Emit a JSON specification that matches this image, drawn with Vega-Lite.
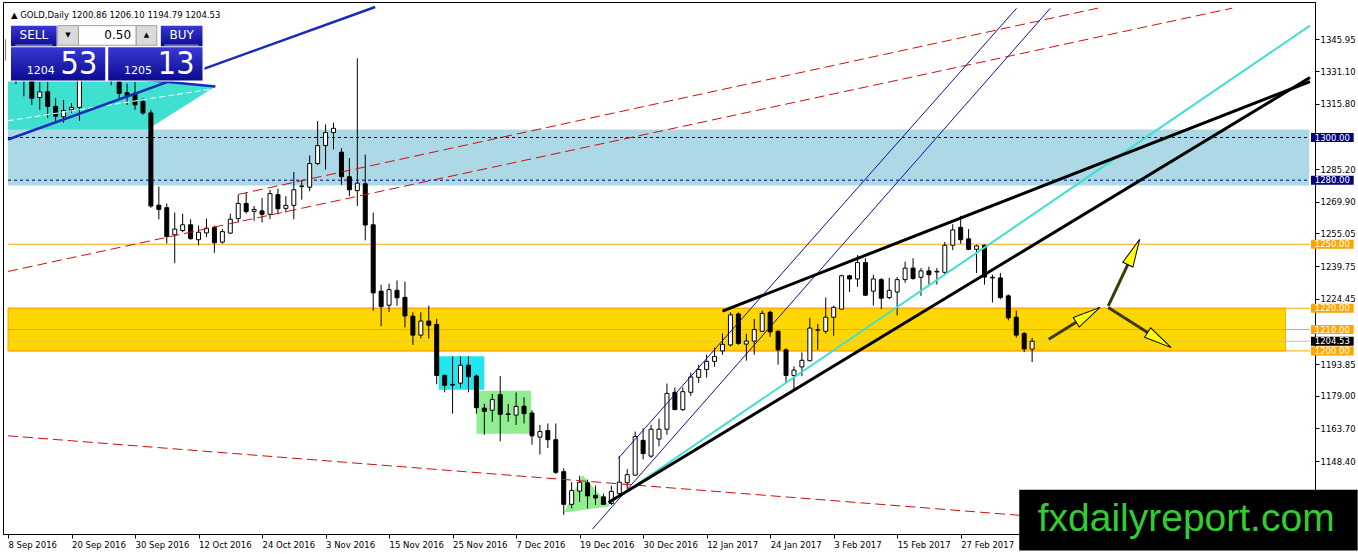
{
"$schema": "https://vega.github.io/schema/vega-lite/v6.json",
"width": 1312, "height": 532,
"autosize": {"type": "none"},
"padding": {"left": 3, "top": 2, "right": 43, "bottom": 20},
"background": "#FFFFFF",
"config": {"view": {"stroke": "#000000", "strokeWidth": 1}},
"encoding": {
 "x": {"field": "x", "type": "quantitative", "title": null, "scale": {"domain": [0, 164], "nice": false, "zero": false},
  "axis": {"values": [0,8,16,24,32,40,48,56,64,72,80,88,96,104,112,120], "labelExpr": "['8 Sep 2016','20 Sep 2016','30 Sep 2016','12 Oct 2016','24 Oct 2016','3 Nov 2016','15 Nov 2016','25 Nov 2016','7 Dec 2016','19 Dec 2016','30 Dec 2016','12 Jan 2017','24 Jan 2017','3 Feb 2017','15 Feb 2017','27 Feb 2017'][round(datum.value/8)]", "labelAlign": "left", "labelBaseline": "top", "tickSize": 4, "labelPadding": 2, "labelFont": "DejaVu Sans", "labelFontSize": 8.5, "labelColor": "#000000", "tickColor": "#000000", "domainColor": "#000000", "grid": false, "title": null, "labelFlush": false, "labelOverlap": false, "labelBound": false}},
 "y": {"field": "y", "type": "quantitative", "title": null, "scale": {"domain": [1116.55, 1361.15], "nice": false, "zero": false},
  "axis": {"orient": "right", "values": [1345.95,1331.1,1315.8,1285.2,1269.9,1255.05,1239.75,1224.45,1193.85,1179,1163.7,1148.4], "format": ".2f", "tickSize": 4, "labelPadding": 1, "labelFont": "DejaVu Sans", "labelFontSize": 8.5, "labelColor": "#000000", "tickColor": "#000000", "domainColor": "#000000", "grid": false, "title": null, "labelFlush": false, "labelOverlap": false}}
},
"layer": [
 {"data": {"values": [{"x": 0, "x2": 163.9, "y": 1277.5, "y2": 1303.7}]},
  "mark": {"type": "rect", "fill": "#ADD8E6"},
  "encoding": {"x2": {"field": "x2"}, "y2": {"field": "y2"}}},
 {"data": {"values": [{"x": 0, "y": 1332.69, "y2": 1303.68}, {"x": 17.5, "y": 1326.84, "y2": 1303.68}, {"x": 26.125, "y": 1323.95, "y2": 1323.95}]},
  "mark": {"type": "area", "fill": "#40E0D0", "opacity": 1, "fillOpacity": 1},
  "encoding": {"y2": {"field": "y2"}}},
 {"data": {"values": [{"x": 0, "x2": 160.9, "y": 1200, "y2": 1220}]},
  "mark": {"type": "rect", "fill": "#FFD700", "stroke": "#FFA500", "strokeWidth": 1},
  "encoding": {"x2": {"field": "x2"}, "y2": {"field": "y2"}}},
 {"data": {"values": [{"x": 54.25, "x2": 60.0, "y": 1181.84, "y2": 1197.47}]},
  "mark": {"type": "rect", "fill": "#22E5F0"},
  "encoding": {"x2": {"field": "x2"}, "y2": {"field": "y2"}}},
 {"data": {"values": [{"x": 59.0, "x2": 65.9, "y": 1161.15, "y2": 1181.38}]},
  "mark": {"type": "rect", "fill": "#90EE90"},
  "encoding": {"x2": {"field": "x2"}, "y2": {"field": "y2"}}},
 {"data": {"values": [{"x": 70.04, "y": 1124.23, "y2": 1124.23}, {"x": 72.34, "y": 1141.84, "y2": 1125.41}, {"x": 75.88, "y": 1127.22, "y2": 1127.22}]},
  "mark": {"type": "area", "fill": "#90EE90", "opacity": 1, "fillOpacity": 1},
  "encoding": {"y2": {"field": "y2"}}},
 {"data": {"values": [{"x": 0, "x2": 164, "y": 1250}, {"x": 0, "x2": 164, "y": 1220}, {"x": 0, "x2": 164, "y": 1210}, {"x": 0, "x2": 164, "y": 1200}]},
  "mark": {"type": "rule", "color": "#FFA500", "strokeWidth": 1},
  "encoding": {"x2": {"field": "x2"}}},
 {"data": {"values": [{"x": 0, "x2": 164, "y": 1204.53}]},
  "mark": {"type": "rule", "color": "#C0C0C0", "strokeWidth": 1},
  "encoding": {"x2": {"field": "x2"}}},
 {"data": {"values": [{"x": 0, "x2": 164, "y": 1300}, {"x": 0, "x2": 164, "y": 1280}]},
  "mark": {"type": "rule", "color": "#000080", "strokeWidth": 1, "strokeDash": [3, 3]},
  "encoding": {"x2": {"field": "x2"}}},
 {"data": {"name": "candles", "values": [
  {"x":0,"o":1346,"h":1350,"l":1333,"c":1336},
  {"x":1,"o":1336,"h":1338,"l":1325,"c":1328},
  {"x":2,"o":1328.5,"h":1331,"l":1319.3,"c":1327.5},
  {"x":3,"o":1326.5,"h":1329,"l":1315.3,"c":1318.4},
  {"x":4,"o":1318.7,"h":1326.0,"l":1313.0,"c":1321.4},
  {"x":5,"o":1321.4,"h":1326.0,"l":1309.2,"c":1314.6},
  {"x":6,"o":1314.6,"h":1318.4,"l":1306.9,"c":1310.0},
  {"x":7,"o":1309.7,"h":1317.6,"l":1306.9,"c":1312.7},
  {"x":8,"o":1313.0,"h":1316.1,"l":1311.5,"c":1314.1},
  {"x":9,"o":1314.1,"h":1337,"l":1307.8,"c":1334},
  {"x":10,"o":1334,"h":1343,"l":1330,"c":1337},
  {"x":11,"o":1337,"h":1342,"l":1334,"c":1338},
  {"x":12,"o":1338,"h":1344,"l":1334,"c":1339},
  {"x":13,"o":1339,"h":1342,"l":1324.5,"c":1327},
  {"x":14,"o":1326.0,"h":1328,"l":1318.4,"c":1320.7},
  {"x":15,"o":1321.0,"h":1325.3,"l":1315.3,"c":1319.5},
  {"x":16,"o":1320.7,"h":1326.0,"l":1313.0,"c":1315.3},
  {"x":17,"o":1316.9,"h":1318.4,"l":1310.7,"c":1311.5},
  {"x":18,"o":1311.5,"h":1313.0,"l":1267.1,"c":1267.9},
  {"x":19,"o":1268.3,"h":1277.0,"l":1261.7,"c":1266.3},
  {"x":20,"o":1267.1,"h":1269.1,"l":1250.3,"c":1253.6},
  {"x":21,"o":1254.4,"h":1264.8,"l":1241.1,"c":1257.1},
  {"x":22,"o":1256.4,"h":1264.3,"l":1255.6,"c":1259.1},
  {"x":23,"o":1259.1,"h":1261.7,"l":1252.1,"c":1252.6},
  {"x":24,"o":1252.1,"h":1258.7,"l":1249.5,"c":1255.6},
  {"x":25,"o":1255.3,"h":1262.0,"l":1253.3,"c":1257.5},
  {"x":26,"o":1257.9,"h":1258.7,"l":1246.0,"c":1250.7},
  {"x":27,"o":1251.0,"h":1257.1,"l":1250.3,"c":1255.9},
  {"x":28,"o":1255.2,"h":1264.3,"l":1254.8,"c":1261.7},
  {"x":29,"o":1262.0,"h":1273.2,"l":1260.2,"c":1269.1},
  {"x":30,"o":1269.1,"h":1274.0,"l":1264.3,"c":1265.3},
  {"x":31,"o":1265.4,"h":1267.9,"l":1261.0,"c":1266.3},
  {"x":32,"o":1265.6,"h":1271.7,"l":1260.2,"c":1264.0},
  {"x":33,"o":1264.0,"h":1275.5,"l":1261.7,"c":1273.7},
  {"x":34,"o":1273.2,"h":1276.0,"l":1264.0,"c":1266.6},
  {"x":35,"o":1266.8,"h":1272.5,"l":1264.8,"c":1268.2},
  {"x":36,"o":1268.2,"h":1283.9,"l":1261.7,"c":1275.5},
  {"x":37,"o":1277.0,"h":1280.1,"l":1270.9,"c":1277.3},
  {"x":38,"o":1276.7,"h":1291.6,"l":1274.8,"c":1287.8},
  {"x":39,"o":1287.8,"h":1307.7,"l":1287.0,"c":1296.2},
  {"x":40,"o":1296.2,"h":1306.1,"l":1285.0,"c":1302.3},
  {"x":41,"o":1302.3,"h":1306.9,"l":1294.4,"c":1304.3},
  {"x":42,"o":1293.1,"h":1295.0,"l":1277.8,"c":1281.6},
  {"x":43,"o":1281.6,"h":1290.4,"l":1272.5,"c":1275.5},
  {"x":44,"o":1275.1,"h":1337.1,"l":1267.9,"c":1278.6},
  {"x":45,"o":1278.3,"h":1292.0,"l":1251.8,"c":1259.0},
  {"x":46,"o":1259.1,"h":1264.8,"l":1218.8,"c":1227.2},
  {"x":47,"o":1228.0,"h":1231.0,"l":1211.6,"c":1220.8},
  {"x":48,"o":1221.4,"h":1231.5,"l":1218.3,"c":1228.7},
  {"x":49,"o":1228.4,"h":1233.0,"l":1221.1,"c":1224.9},
  {"x":50,"o":1225.1,"h":1232.5,"l":1211.0,"c":1216.4},
  {"x":51,"o":1216.3,"h":1218.1,"l":1202.8,"c":1207.4},
  {"x":52,"o":1207.4,"h":1218.1,"l":1205.8,"c":1214.0},
  {"x":53,"o":1214.0,"h":1221.2,"l":1205.8,"c":1212.0},
  {"x":54,"o":1212.4,"h":1215.0,"l":1184.4,"c":1188.5},
  {"x":55,"o":1188.5,"h":1189.0,"l":1180.6,"c":1183.9},
  {"x":56,"o":1184.3,"h":1197.4,"l":1170.6,"c":1184.0},
  {"x":57,"o":1184.9,"h":1197.4,"l":1182.6,"c":1193.3},
  {"x":58,"o":1193.3,"h":1197.4,"l":1180.6,"c":1187.9},
  {"x":59,"o":1188.2,"h":1189.0,"l":1170.6,"c":1173.4},
  {"x":60,"o":1173.2,"h":1175.2,"l":1160.7,"c":1171.7},
  {"x":61,"o":1172.2,"h":1179.8,"l":1166.8,"c":1177.2},
  {"x":62,"o":1179.5,"h":1188.2,"l":1157.6,"c":1170.3},
  {"x":63,"o":1170.5,"h":1175.2,"l":1166.8,"c":1170.2},
  {"x":64,"o":1169.9,"h":1180.6,"l":1165.3,"c":1174.0},
  {"x":65,"o":1174.1,"h":1178.3,"l":1166.0,"c":1170.6},
  {"x":66,"o":1170.9,"h":1172.2,"l":1156.1,"c":1160.2},
  {"x":67,"o":1159.6,"h":1165.3,"l":1151.5,"c":1162.2},
  {"x":68,"o":1162.7,"h":1166.0,"l":1154.5,"c":1158.4},
  {"x":69,"o":1158.4,"h":1166.0,"l":1142.3,"c":1143.1},
  {"x":70,"o":1143.4,"h":1144.9,"l":1123.2,"c":1128.1},
  {"x":71,"o":1128.1,"h":1138.5,"l":1126.2,"c":1134.6},
  {"x":72,"o":1134.3,"h":1141.5,"l":1129.3,"c":1138.5},
  {"x":73,"o":1138.2,"h":1139.7,"l":1126.2,"c":1132.0},
  {"x":74,"o":1132.3,"h":1136.9,"l":1127.8,"c":1131.1},
  {"x":75,"o":1131.6,"h":1133.1,"l":1127.8,"c":1128.1},
  {"x":76,"o":1128.5,"h":1136.9,"l":1127.8,"c":1134.2},
  {"x":77,"o":1133.1,"h":1150.7,"l":1132.3,"c":1138.5},
  {"x":78,"o":1138.2,"h":1144.6,"l":1135.4,"c":1142.0},
  {"x":79,"o":1141.8,"h":1162.2,"l":1141.5,"c":1159.9},
  {"x":80,"o":1158.1,"h":1163.7,"l":1149.2,"c":1151.9},
  {"x":81,"o":1150.7,"h":1165.3,"l":1149.9,"c":1163.3},
  {"x":82,"o":1158.7,"h":1168.3,"l":1155.3,"c":1163.3},
  {"x":83,"o":1163.3,"h":1184.7,"l":1160.7,"c":1180.1},
  {"x":84,"o":1180.6,"h":1182.9,"l":1172.2,"c":1172.5},
  {"x":85,"o":1172.5,"h":1182.9,"l":1171.8,"c":1180.9},
  {"x":86,"o":1180.6,"h":1189.8,"l":1179.0,"c":1187.8},
  {"x":87,"o":1187.6,"h":1193.5,"l":1185.0,"c":1191.3},
  {"x":88,"o":1191.3,"h":1198.2,"l":1187.5,"c":1195.1},
  {"x":89,"o":1195.1,"h":1201.5,"l":1192.5,"c":1197.4},
  {"x":90,"o":1200.0,"h":1208.2,"l":1198.2,"c":1203.1},
  {"x":91,"o":1202.8,"h":1218.1,"l":1202.0,"c":1216.9},
  {"x":92,"o":1217.3,"h":1218.1,"l":1202.8,"c":1203.5},
  {"x":93,"o":1203.2,"h":1208.1,"l":1195.4,"c":1204.6},
  {"x":94,"o":1204.6,"h":1215.0,"l":1198.2,"c":1210.0},
  {"x":95,"o":1209.2,"h":1218.9,"l":1208.9,"c":1217.6},
  {"x":96,"o":1218.1,"h":1218.9,"l":1206.6,"c":1208.9},
  {"x":97,"o":1209.2,"h":1209.7,"l":1193.6,"c":1200.5},
  {"x":98,"o":1200.5,"h":1201.2,"l":1185.2,"c":1188.5},
  {"x":99,"o":1188.5,"h":1192.8,"l":1181.3,"c":1191.0},
  {"x":100,"o":1192.5,"h":1199.3,"l":1188.2,"c":1195.6},
  {"x":101,"o":1195.4,"h":1215.5,"l":1195.1,"c":1210.7},
  {"x":102,"o":1209.7,"h":1212.7,"l":1200.5,"c":1209.9},
  {"x":103,"o":1209.2,"h":1225.0,"l":1208.1,"c":1215.8},
  {"x":104,"o":1215.8,"h":1221.2,"l":1207.1,"c":1220.4},
  {"x":105,"o":1219.6,"h":1235.7,"l":1219.6,"c":1235.2},
  {"x":106,"o":1235.2,"h":1235.7,"l":1227.6,"c":1233.7},
  {"x":107,"o":1233.7,"h":1244.9,"l":1230.0,"c":1241.4},
  {"x":108,"o":1241.4,"h":1243.4,"l":1225.8,"c":1226.1},
  {"x":109,"o":1228.0,"h":1235.7,"l":1221.2,"c":1233.7},
  {"x":110,"o":1233.4,"h":1234.2,"l":1219.6,"c":1224.7},
  {"x":111,"o":1225.0,"h":1234.2,"l":1224.2,"c":1228.4},
  {"x":112,"o":1227.6,"h":1234.6,"l":1216.6,"c":1233.4},
  {"x":113,"o":1233.4,"h":1241.8,"l":1231.9,"c":1238.8},
  {"x":114,"o":1238.8,"h":1243.4,"l":1233.4,"c":1233.9},
  {"x":115,"o":1234.5,"h":1238.8,"l":1225.8,"c":1237.5},
  {"x":116,"o":1237.5,"h":1239.5,"l":1231.1,"c":1235.7},
  {"x":117,"o":1237.0,"h":1238.8,"l":1231.1,"c":1237.3},
  {"x":118,"o":1236.8,"h":1251.0,"l":1235.7,"c":1249.5},
  {"x":119,"o":1249.5,"h":1259.4,"l":1247.2,"c":1256.7},
  {"x":120,"o":1257.9,"h":1263.3,"l":1250.2,"c":1252.1},
  {"x":121,"o":1252.5,"h":1257.1,"l":1247.2,"c":1247.6},
  {"x":122,"o":1247.6,"h":1249.8,"l":1236.5,"c":1249.2},
  {"x":123,"o":1249.5,"h":1249.8,"l":1231.1,"c":1234.6},
  {"x":124,"o":1234.2,"h":1235.7,"l":1222.7,"c":1234.5},
  {"x":125,"o":1234.2,"h":1236.5,"l":1224.2,"c":1225.0},
  {"x":126,"o":1225.8,"h":1226.5,"l":1214.3,"c":1215.5},
  {"x":127,"o":1215.8,"h":1218.9,"l":1206.2,"c":1207.4},
  {"x":128,"o":1208.1,"h":1208.9,"l":1199.4,"c":1200.9},
  {"x":129,"o":1200.86,"h":1206.10,"l":1194.79,"c":1204.53}
 ]},
  "layer": [
   {"mark": {"type": "rule", "color": "#000000", "strokeWidth": 1, "clip": true},
    "encoding": {"y": {"field": "l", "type": "quantitative", "title": null}, "y2": {"field": "h"}}},
   {"mark": {"type": "bar", "size": 4, "stroke": "#000000", "strokeWidth": 1, "clip": true},
    "encoding": {"y": {"field": "o", "type": "quantitative", "title": null}, "y2": {"field": "c"},
     "fill": {"condition": {"test": "datum.c >= datum.o", "value": "#FFFFFF"}, "value": "#000000"}}}
  ]},
 {"data": {"values": [{"x": 0, "y": 1237.24, "x2": 154.21, "y2": 1360.6}, {"x": 29.0, "y": 1273.33, "x2": 137.54, "y2": 1360.83}, {"x": 0, "y": 1160.23, "x2": 127.375, "y2": 1122.99}]},
  "mark": {"type": "rule", "color": "#CC1010", "strokeWidth": 1, "strokeDash": [10, 5]},
  "encoding": {"x2": {"field": "x2"}, "y2": {"field": "y2"}}},
 {"data": {"values": [{"x": 0, "y": 1307.82, "x2": 26.125, "y2": 1322.99}]},
  "mark": {"type": "rule", "color": "#FFFFFF", "strokeWidth": 1, "strokeDash": [6, 3]},
  "encoding": {"x2": {"field": "x2"}, "y2": {"field": "y2"}}},
 {"data": {"values": [{"x": 0, "y": 1299.08, "x2": 46.25, "y2": 1361.15}, {"x": 14.625, "y": 1328.05, "x2": 26.125, "y2": 1323.91}]},
  "mark": {"type": "rule", "color": "#1A2AB8", "strokeWidth": 2.5},
  "encoding": {"x2": {"field": "x2"}, "y2": {"field": "y2"}}},
 {"data": {"values": [{"x": 76.875, "y": 1149.66, "x2": 127.04, "y2": 1360.55}, {"x": 73.625, "y": 1116.55, "x2": 131.29, "y2": 1360.55}]},
  "mark": {"type": "rule", "color": "#1010A0", "strokeWidth": 1},
  "encoding": {"x2": {"field": "x2"}, "y2": {"field": "y2"}}},
 {"data": {"values": [{"x": 75.875, "y": 1128.97, "x2": 164, "y2": 1352.41}]},
  "mark": {"type": "rule", "color": "#40E0D0", "strokeWidth": 2},
  "encoding": {"x2": {"field": "x2"}, "y2": {"field": "y2"}}},
 {"data": {"values": [{"x": 75.625, "y": 1128.97, "x2": 164, "y2": 1328.14}, {"x": 90, "y": 1218.62, "x2": 164, "y2": 1326.21}]},
  "mark": {"type": "rule", "color": "#000000", "strokeWidth": 3},
  "encoding": {"x2": {"field": "x2"}, "y2": {"field": "y2"}}},
 {"data": {"values": [{"x": 131.09, "y": 1205.43, "x2": 136.05, "y2": 1216.9}, {"x": 138.59, "y": 1221.06, "x2": 141.8, "y2": 1246.35}, {"x": 138.59, "y": 1220.32, "x2": 145.03, "y2": 1205.09}]},
  "mark": {"type": "rule", "color": "#3A3A0A", "strokeWidth": 3},
  "encoding": {"x2": {"field": "x2"}, "y2": {"field": "y2"}}},
 {"data": {"values": [{"x": 136.05, "y": 1216.9}]},
  "mark": {"type": "point", "shape": "M0,-1L0.4,1L-0.4,1Z", "size": 784, "filled": true, "fill": "#FFFF00", "stroke": "#000000", "strokeWidth": 1, "opacity": 1, "angle": 57.9},
  "encoding": {}},
 {"data": {"values": [{"x": 141.8, "y": 1246.35}]},
  "mark": {"type": "point", "shape": "M0,-1L0.4,1L-0.4,1Z", "size": 784, "filled": true, "fill": "#FFFF00", "stroke": "#000000", "strokeWidth": 1, "opacity": 1, "angle": 25.0},
  "encoding": {}},
 {"data": {"values": [{"x": 145.03, "y": 1205.09}]},
  "mark": {"type": "point", "shape": "M0,-1L0.4,1L-0.4,1Z", "size": 784, "filled": true, "fill": "#FFFF00", "stroke": "#000000", "strokeWidth": 1, "opacity": 1, "angle": 122.7},
  "encoding": {}},
 {"data": {"values": [{"x": 164.125, "x2": 169.5, "y": 1300}, {"x": 164.125, "x2": 169.5, "y": 1280}]},
  "mark": {"type": "bar", "size": 9, "fill": "#000080"},
  "encoding": {"x2": {"field": "x2"}}},
 {"data": {"values": [{"x": 164.125, "x2": 169.5, "y": 1250}, {"x": 164.125, "x2": 169.5, "y": 1220}, {"x": 164.125, "x2": 169.5, "y": 1210}, {"x": 164.125, "x2": 169.5, "y": 1200}]},
  "mark": {"type": "bar", "size": 9, "fill": "#FFA500"},
  "encoding": {"x2": {"field": "x2"}}},
 {"data": {"values": [{"x": 164.125, "x2": 169.5, "y": 1204.53}]},
  "mark": {"type": "bar", "size": 9, "fill": "#000000"},
  "encoding": {"x2": {"field": "x2"}}},
 {"data": {"values": [{"x": 164.6, "y": 1300, "t": "1300.00"}, {"x": 164.6, "y": 1280, "t": "1280.00"}, {"x": 164.6, "y": 1250, "t": "1250.00"}, {"x": 164.6, "y": 1220, "t": "1220.00"}, {"x": 164.6, "y": 1210, "t": "1210.00"}, {"x": 164.6, "y": 1204.53, "t": "1204.53"}, {"x": 164.6, "y": 1200, "t": "1200.00"}]},
  "mark": {"type": "text", "align": "left", "baseline": "middle", "font": "DejaVu Sans", "fontSize": 8.5, "color": "#FFFFFF"},
  "encoding": {"text": {"field": "t"}}},
 {"data": {"values": [{"x": 127.375, "x2": 170, "y": 1106.5, "y2": 1134.94}]},
  "mark": {"type": "rect", "fill": "#000000"},
  "encoding": {"x2": {"field": "x2"}, "y2": {"field": "y2"}}},
 {"data": {"values": [{"x": 148.4, "y": 1115.8, "t": "fxdailyreport.com"}]},
  "mark": {"type": "text", "align": "center", "baseline": "alphabetic", "font": "Liberation Sans", "fontSize": 39, "color": "#33CC33"},
  "encoding": {"text": {"field": "t"}}},
 {"data": {"values": [{"x": -0.25, "x2": 24.75, "y": 1326.21, "y2": 1353.33}]},
  "mark": {"type": "rect", "fill": "#FFFFFF"},
  "encoding": {"x2": {"field": "x2"}, "y2": {"field": "y2"}}},
 {"data": {"values": [{"x": 0.375, "x2": 6.125, "y": 1342.76, "y2": 1352.41}, {"x": 19.25, "x2": 24.5, "y": 1342.76, "y2": 1352.41}, {"x": 0.375, "x2": 12.25, "y": 1326.67, "y2": 1342.3}, {"x": 12.625, "x2": 24.5, "y": 1326.67, "y2": 1342.3}]},
  "mark": {"type": "rect", "fill": {"gradient": "linear", "x1": 0, "y1": 0, "x2": 0, "y2": 1, "stops": [{"offset": 0, "color": "#3838D4"}, {"offset": 1, "color": "#0B0B8F"}]}},
  "encoding": {"x2": {"field": "x2"}, "y2": {"field": "y2"}}},
 {"data": {"values": [{"x": 6.25, "x2": 8.875, "y": 1343.22, "y2": 1352.41}, {"x": 16.125, "x2": 18.75, "y": 1343.22, "y2": 1352.41}]},
  "mark": {"type": "rect", "fill": "#DADADA", "stroke": "#A0A0A0", "strokeWidth": 1},
  "encoding": {"x2": {"field": "x2"}, "y2": {"field": "y2"}}},
 {"data": {"values": [{"x": 8.875, "x2": 16.125, "y": 1343.22, "y2": 1352.41}]},
  "mark": {"type": "rect", "fill": "#FFFFFF", "stroke": "#A0A0A0", "strokeWidth": 1},
  "encoding": {"x2": {"field": "x2"}, "y2": {"field": "y2"}}},
 {"data": {"values": [{"x": 0.9, "x2": 5.6, "y": 1343.3}, {"x": 19.7, "x2": 24.0, "y": 1343.3}]},
  "mark": {"type": "rule", "color": "#A0A8FF", "strokeWidth": 1},
  "encoding": {"x2": {"field": "x2"}}},
 {"data": {"values": [{"x": 3.25, "y": 1347.8, "t": "SELL"}, {"x": 21.875, "y": 1347.8, "t": "BUY"}]},
  "mark": {"type": "text", "align": "center", "baseline": "middle", "font": "DejaVu Sans", "fontSize": 12, "color": "#FFFFFF"},
  "encoding": {"text": {"field": "t"}}},
 {"data": {"values": [{"x": 15.5, "y": 1347.8, "t": "0.50"}]},
  "mark": {"type": "text", "align": "right", "baseline": "middle", "font": "DejaVu Sans", "fontSize": 12, "color": "#000000"},
  "encoding": {"text": {"field": "t"}}},
 {"data": {"values": [{"x": 7.56, "y": 1347.8, "t": "▼"}, {"x": 17.44, "y": 1347.8, "t": "▲"}]},
  "mark": {"type": "text", "align": "center", "baseline": "middle", "font": "DejaVu Sans", "fontSize": 7, "color": "#000000"},
  "encoding": {"text": {"field": "t"}}},
 {"data": {"values": [{"x": 2.375, "y": 1329.9, "t": "1204"}, {"x": 14.625, "y": 1329.9, "t": "1205"}]},
  "mark": {"type": "text", "align": "left", "baseline": "alphabetic", "font": "DejaVu Sans", "fontSize": 11, "color": "#FFFFFF"},
  "encoding": {"text": {"field": "t"}}},
 {"data": {"values": [{"x": 6.625, "y": 1329.6, "t": "53"}, {"x": 18.875, "y": 1329.6, "t": "13"}]},
  "mark": {"type": "text", "align": "left", "baseline": "alphabetic", "font": "Liberation Sans Narrow, DejaVu Sans Condensed, sans-serif", "fontSize": 32, "color": "#FFFFFF"},
  "encoding": {"text": {"field": "t"}}},
 {"data": {"values": [{"x": 0.375, "y": 1357.47, "t": "▲ GOLD,Daily  1200.86 1206.10 1194.79 1204.53"}]},
  "mark": {"type": "text", "align": "left", "baseline": "middle", "font": "DejaVu Sans", "fontSize": 8.5, "color": "#000000"},
  "encoding": {"text": {"field": "t"}}}
]
}
